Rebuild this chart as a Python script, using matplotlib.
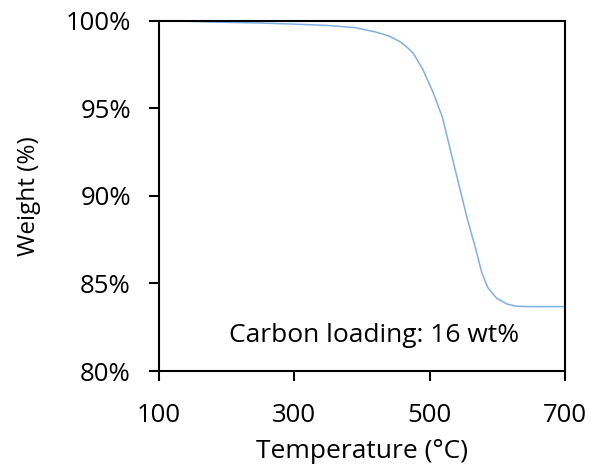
import matplotlib
matplotlib.use("Agg")
import matplotlib.pyplot as plt
from matplotlib.ticker import FuncFormatter

plt.rcParams["font.family"] = ["Open Sans", "DejaVu Sans"]

# TGA curve: temperature (°C) vs remaining weight (%)
temperature = [100, 150, 200, 250, 300, 350, 390, 420, 440, 456, 466, 476, 490,
               505, 519, 535, 550, 555, 567, 577, 586, 599, 614, 628, 650, 700]
weight = [100.0, 99.95, 99.9, 99.86, 99.8, 99.72, 99.6, 99.35, 99.12, 98.8, 98.5,
          98.12, 97.2, 95.9, 94.45, 91.9, 89.55, 88.75, 87.1, 85.6, 84.75, 84.15,
          83.83, 83.7, 83.68, 83.68]

x_ticks = [100, 300, 500, 700]
y_ticks = [80, 85, 90, 95, 100]
annotation = "Carbon loading: 16 wt%"

fig = plt.figure(figsize=(5.9, 4.68), dpi=100)
ax = fig.add_axes([0.269, 0.207, 0.689, 0.749])

ax.plot(temperature, weight, color="#7eb0e3", lw=1.1)

ax.set_xlim(100, 700)
ax.set_ylim(80, 100)
ax.set_xticks(x_ticks)
ax.set_yticks(y_ticks)
ax.yaxis.set_major_formatter(FuncFormatter(lambda v, p: f"{v:.0f}%"))

for s in ax.spines.values():
    s.set_linewidth(1.5)
    s.set_color("black")
ax.tick_params(direction="out", length=7, width=1.5, labelsize=18.5)
ax.tick_params(axis="y", pad=13)
ax.tick_params(axis="x", pad=16)

ax.set_xlabel("Temperature (°C)", fontsize=19, labelpad=8)
ax.set_ylabel("Weight (%)", fontsize=17.5, labelpad=18)

ax.text(418, 81.64, annotation, fontsize=19, ha="center", va="baseline")

fig.savefig("out.png", dpi=100)
